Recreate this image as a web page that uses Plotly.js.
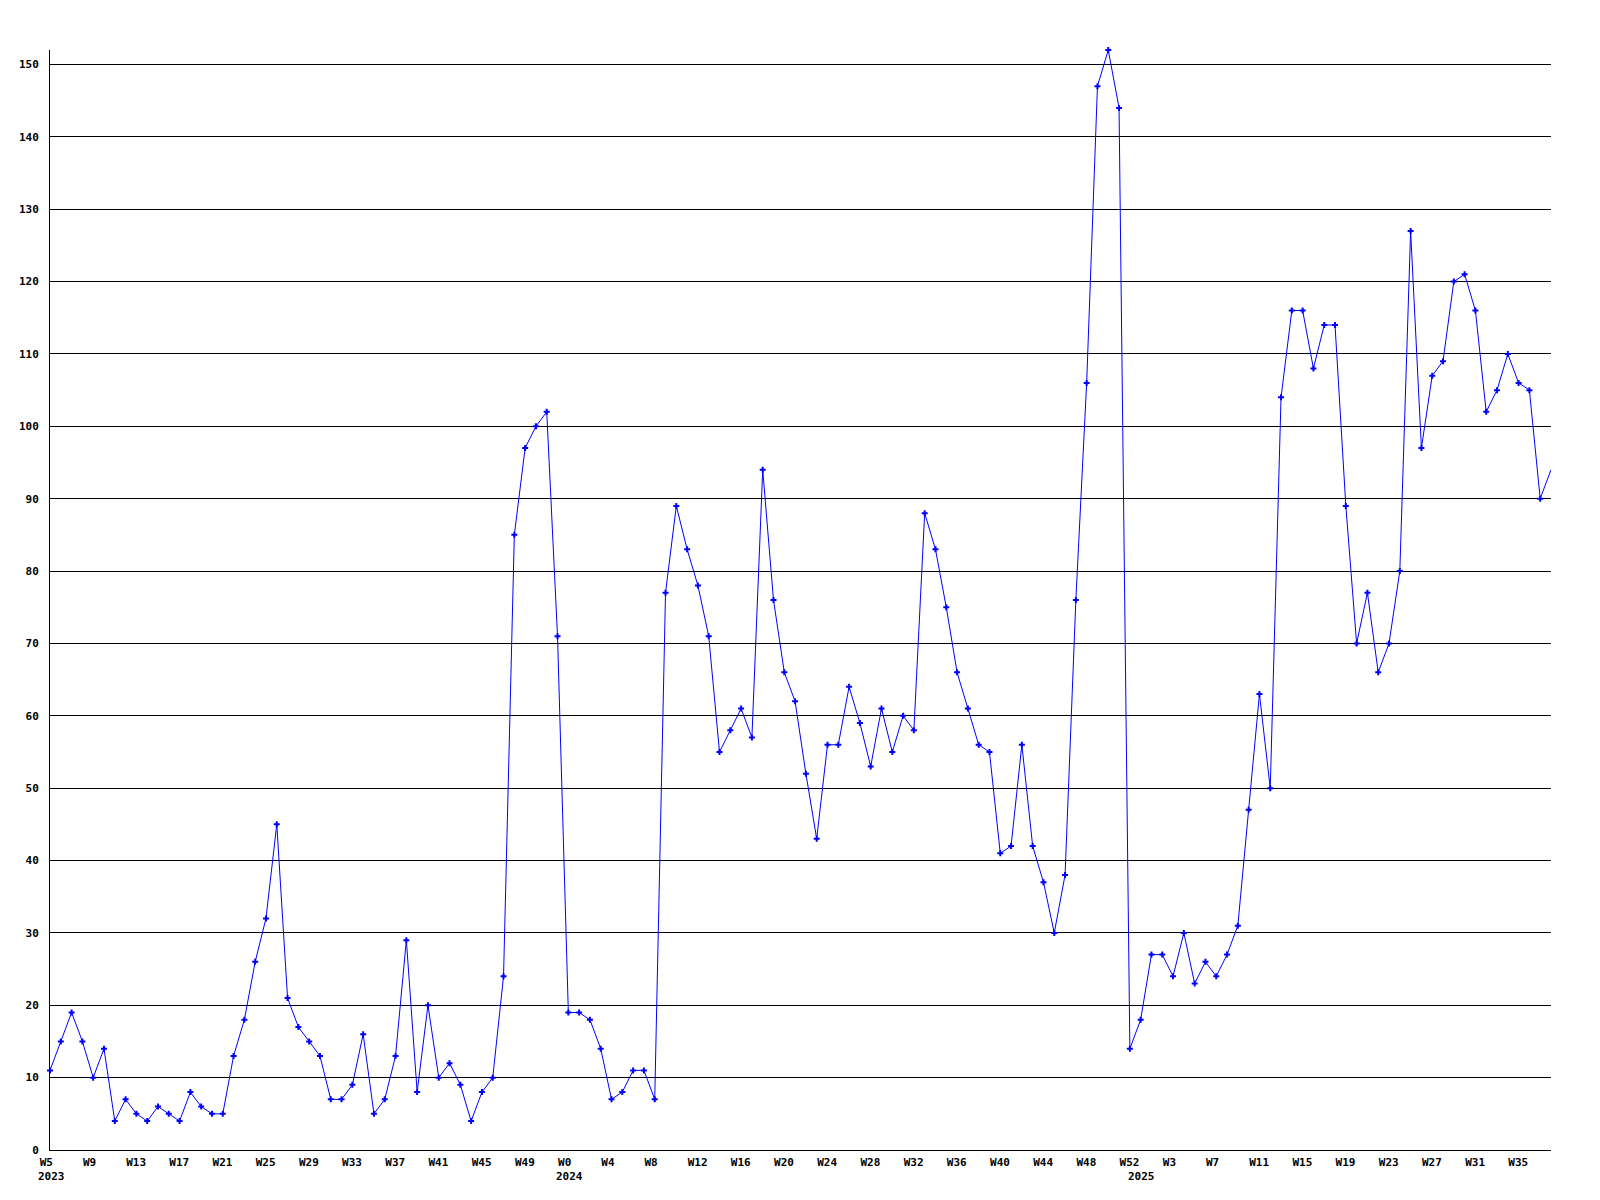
<!DOCTYPE html>
<html>
<head>
<meta charset="utf-8">
<script src="https://cdn.plot.ly/plotly-3.0.1.min.js"></script>
<style>html,body{margin:0;padding:0;background:#fff;}#chart{width:1600px;height:1200px;}</style>
</head>
<body>
<div id="chart"></div>
<script>
// Weekly values
const years = [2023, 2024, 2025];
const firstWeeks = [5, 0, 0];
const values2023 = [11,15,19,15,10,14,4,7,5,4,6,5,4,8,6,5,5,13,18,26,32,45,21,17,15,13,7,7,9,16,5,7,13,29,8,20,10,12,9,4,8,10,24,85,97,100,102,71];
const values2024 = [19,19,18,14,7,8,11,11,7,77,89,83,78,71,55,58,61,57,94,76,66,62,52,43,56,56,64,59,53,61,55,60,58,88,83,75,66,61,56,55,41,42,56,42,37,30,38,76,106,147,152,144,14];
const values2025 = [18,27,27,24,30,23,26,24,27,31,47,63,50,104,116,116,108,114,114,89,70,77,66,70,80,127,97,107,109,120,121,116,102,105,110,106,105,90,94];
const yTicks = [0,10,20,30,40,50,60,70,80,90,100,110,120,130,140,150];
const tickEvery = 4;

const series = [values2023, values2024, values2025];
const x = [], y = [], weekLabels = [], yearStart = [];
series.forEach((vals, k) => {
  yearStart.push(x.length);
  vals.forEach((v, i) => {
    x.push(x.length);
    y.push(v);
    weekLabels.push('W' + (firstWeeks[k] + i));
  });
});

const pad = s => { let t = s; while (t.length < 4) t += '\u00A0'; return t; };
const tickvals = [], ticktext = [];
for (let i = 0; i < x.length; i += tickEvery) { tickvals.push(i); ticktext.push(pad(weekLabels[i])); }

const font = {family: 'DejaVu Sans Mono, monospace', size: 11, color: '#000', weight: 'bold'};

const annotations = years.map((yr, k) => ({
  x: yearStart[k], xref: 'x', y: 0, yref: 'paper',
  text: String(yr), showarrow: false, xanchor: 'left', yanchor: 'middle',
  xshift: -14.5, yshift: -26.5, font: font
}));

const lineTrace = {
  x: x, y: y, type: 'scatter', mode: 'lines',
  line: {color: '#0000ff', width: 1},
  cliponaxis: true, hoverinfo: 'skip'
};
// the last point sits on the right edge of the plot, where the reference shows no marker
const markerTrace = {
  x: x.slice(0, -1), y: y.slice(0, -1), type: 'scatter', mode: 'markers',
  marker: {symbol: 'cross', size: 5, color: '#0000ff'},
  cliponaxis: false, hoverinfo: 'x+y'
};

const layout = {
  width: 1600, height: 1200,
  margin: {l: 50, r: 49, t: 50, b: 50, pad: 0},
  paper_bgcolor: '#fff', plot_bgcolor: '#fff',
  showlegend: false, font: font,
  xaxis: {
    range: [0, x.length - 1], showgrid: false, zeroline: false,
    showline: true, linecolor: '#000', linewidth: 1, ticks: '',
    tickmode: 'array', tickvals: tickvals, ticktext: ticktext,
    tickfont: font, ticklabelshift: 3, ticklabelstandoff: 2, fixedrange: true
  },
  yaxis: {
    range: [0, 152], showgrid: true, gridcolor: '#000', gridwidth: 1,
    zeroline: false, showline: true, linecolor: '#000', linewidth: 1,
    ticks: '', tickmode: 'array', tickvals: yTicks, ticktext: yTicks.map(String),
    tickfont: font, ticklabelstandoff: 8, fixedrange: true
  },
  annotations: annotations
};

Plotly.newPlot('chart', [lineTrace, markerTrace], layout, {displayModeBar: false, staticPlot: true});
</script>
</body>
</html>
